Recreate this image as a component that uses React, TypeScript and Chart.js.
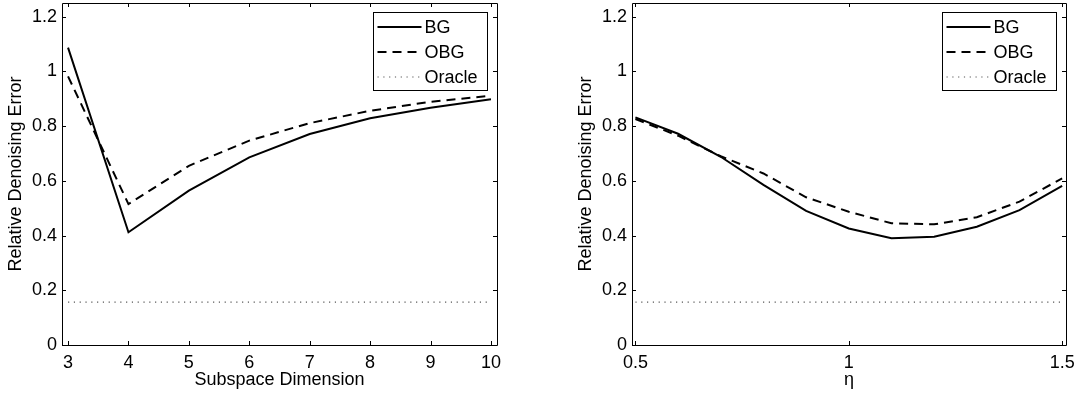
import React, { useEffect, useRef } from "react";
import { Chart, registerables } from "chart.js";

Chart.register(...registerables);

// ---------- data ----------
const DIMS = [3, 4, 5, 6, 7, 8, 9, 10];
const BG_DIM = [1.087, 0.412, 0.564, 0.686, 0.771, 0.829, 0.867, 0.898];
const OBG_DIM = [0.982, 0.515, 0.655, 0.747, 0.811, 0.856, 0.889, 0.911];
const ORACLE_DIM = [0.157, 0.157, 0.157, 0.157, 0.157, 0.157, 0.157, 0.157];

const ETAS = [0.5, 0.6, 0.7, 0.8, 0.9, 1.0, 1.1, 1.2, 1.3, 1.4, 1.5];
const BG_ETA = [0.832, 0.772, 0.688, 0.585, 0.49, 0.426, 0.39, 0.396, 0.432, 0.493, 0.582];
const OBG_ETA = [0.826, 0.765, 0.69, 0.627, 0.54, 0.487, 0.445, 0.441, 0.467, 0.524, 0.609];
const ORACLE_ETA = [0.157, 0.157, 0.157, 0.157, 0.157, 0.157, 0.157, 0.157, 0.157, 0.157, 0.157];

const Y_TICKS = [0, 0.2, 0.4, 0.6, 0.8, 1, 1.2];
const DIM_TICKS = [3, 4, 5, 6, 7, 8, 9, 10];
const ETA_TICKS = [0.5, 1, 1.5];

const SERIES_LABELS = ["BG", "OBG", "Oracle"];
const Y_TITLE = "Relative Denoising Error";

// ---------- styling ----------
const FONT_FAMILY = "'Liberation Sans', Arial, Helvetica, sans-serif";
const FONT = { family: FONT_FAMILY, size: 18 };

const framePlugin = {
  id: "frame",
  afterDraw(chart: any) {
    const { ctx, chartArea } = chart;
    const { left, right, top, bottom } = chartArea;
    const xs = chart.scales.x;
    const ys = chart.scales.y;
    ctx.save();
    ctx.strokeStyle = "#000";
    ctx.lineWidth = 1;
    ctx.setLineDash([]);
    ctx.beginPath();
    ctx.rect(Math.round(left) + 0.5, Math.round(top) + 0.5, Math.round(right - left), Math.round(bottom - top));
    ctx.stroke();
    const TL = 4;
    ctx.beginPath();
    xs.ticks.forEach((t: any) => {
      const px = Math.round(xs.getPixelForValue(t.value)) + 0.5;
      ctx.moveTo(px, bottom);
      ctx.lineTo(px, bottom - TL);
      ctx.moveTo(px, top);
      ctx.lineTo(px, top + TL);
    });
    ys.ticks.forEach((t: any) => {
      const py = Math.round(ys.getPixelForValue(t.value)) + 0.5;
      ctx.moveTo(left, py);
      ctx.lineTo(left + TL, py);
      ctx.moveTo(right, py);
      ctx.lineTo(right - TL, py);
    });
    ctx.stroke();
    ctx.restore();
  },
};

const legendPlugin = {
  id: "boxLegend",
  afterDraw(chart: any) {
    const { ctx, chartArea } = chart;
    const w = 114;
    const h = 78;
    const bx = Math.round(chartArea.right - 10 - w) + 0.5;
    const by = Math.round(chartArea.top + 9) + 0.5;
    ctx.save();
    ctx.fillStyle = "#fff";
    ctx.fillRect(bx, by, w, h);
    ctx.strokeStyle = "#000";
    ctx.lineWidth = 1;
    ctx.setLineDash([]);
    ctx.strokeRect(bx, by, w, h);
    chart.data.datasets.forEach((ds: any, i: number) => {
      const y = by + 14.5 + i * 25;
      ctx.beginPath();
      ctx.strokeStyle = ds.borderColor;
      ctx.lineWidth = ds.borderWidth;
      ctx.setLineDash(ds.borderDash || []);
      ctx.moveTo(bx + 4, y);
      ctx.lineTo(bx + 48, y);
      ctx.stroke();
      ctx.setLineDash([]);
      ctx.fillStyle = "#000";
      ctx.font = `18px ${FONT_FAMILY}`;
      ctx.textBaseline = "middle";
      ctx.textAlign = "left";
      ctx.fillText(ds.label, bx + 51, y + 1);
    });
    ctx.restore();
  },
};

function makeConfig(
  xs: number[],
  bg: number[],
  obg: number[],
  oracle: number[],
  xTicks: number[],
  xMin: number,
  xMax: number,
  xTitle: string,
  padRight: number
): any {
  return {
    type: "line",
    data: {
      datasets: [
        {
          label: SERIES_LABELS[0],
          data: xs.map((x, i) => ({ x, y: bg[i] })),
          borderColor: "#000",
          borderWidth: 2,
          pointRadius: 0,
          tension: 0,
          fill: false,
        },
        {
          label: SERIES_LABELS[1],
          data: xs.map((x, i) => ({ x, y: obg[i] })),
          borderColor: "#000",
          borderWidth: 2,
          borderDash: [9, 6],
          pointRadius: 0,
          tension: 0,
          fill: false,
        },
        {
          label: SERIES_LABELS[2],
          data: xs.map((x, i) => ({ x, y: oracle[i] })),
          borderColor: "#555",
          borderWidth: 1.2,
          borderDash: [1.2, 4.6],
          pointRadius: 0,
          tension: 0,
          fill: false,
        },
      ],
    },
    options: {
      animation: false,
      responsive: false,
      maintainAspectRatio: false,
      layout: { padding: { left: 0, top: 3, right: padRight, bottom: 0 } },
      plugins: { legend: { display: false }, tooltip: { enabled: false } },
      scales: {
        x: {
          type: "linear",
          min: xMin,
          max: xMax,
          afterBuildTicks: (s: any) => {
            s.ticks = xTicks.map((v) => ({ value: v }));
          },
          afterFit: (s: any) => {
            s.height = 51;
            s.paddingLeft = 0;
            s.paddingRight = 0;
          },
          grid: { display: false, drawTicks: false },
          border: { display: false },
          ticks: {
            color: "#000",
            font: FONT,
            padding: 7,
            maxRotation: 0,
            autoSkip: false,
            callback: (v: any) => String(v),
          },
          title: {
            display: true,
            text: xTitle,
            color: "#000",
            font: FONT,
            padding: { top: 0, bottom: 5 },
          },
        },
        y: {
          type: "linear",
          min: 0,
          max: 1.25,
          afterBuildTicks: (s: any) => {
            s.ticks = Y_TICKS.map((v) => ({ value: v }));
          },
          afterFit: (s: any) => {
            s.width = 62;
            s.paddingTop = 0;
            s.paddingBottom = 0;
          },
          grid: { display: false, drawTicks: false },
          border: { display: false },
          ticks: {
            color: "#000",
            font: FONT,
            padding: 5,
            autoSkip: false,
            callback: (v: any) => String(v),
          },
          title: {
            display: true,
            text: Y_TITLE,
            color: "#000",
            font: FONT,
            padding: { top: 5, bottom: 0 },
          },
        },
      },
    },
    plugins: [framePlugin, legendPlugin],
  };
}

export default function App() {
  const leftRef = useRef<HTMLCanvasElement | null>(null);
  const rightRef = useRef<HTMLCanvasElement | null>(null);

  useEffect(() => {
    const c1 = new Chart(
      leftRef.current as HTMLCanvasElement,
      makeConfig(DIMS, BG_DIM, OBG_DIM, ORACLE_DIM, DIM_TICKS, 2.9, 10.1, "Subspace Dimension", 23)
    );
    const c2 = new Chart(
      rightRef.current as HTMLCanvasElement,
      makeConfig(ETAS, BG_ETA, OBG_ETA, ORACLE_ETA, ETA_TICKS, 0.492, 1.509, "η", 10)
    );
    return () => {
      c1.destroy();
      c2.destroy();
    };
  }, []);

  return (
    <div
      style={{
        position: "fixed",
        left: 0,
        top: 0,
        width: 1076,
        height: 396,
        background: "#fff",
        overflow: "hidden",
      }}
    >
      <canvas
        ref={leftRef}
        width={520}
        height={396}
        style={{ position: "absolute", left: 0, top: 0, width: 520, height: 396, display: "block" }}
      />
      <canvas
        ref={rightRef}
        width={506}
        height={396}
        style={{ position: "absolute", left: 570, top: 0, width: 506, height: 396, display: "block" }}
      />
    </div>
  );
}
